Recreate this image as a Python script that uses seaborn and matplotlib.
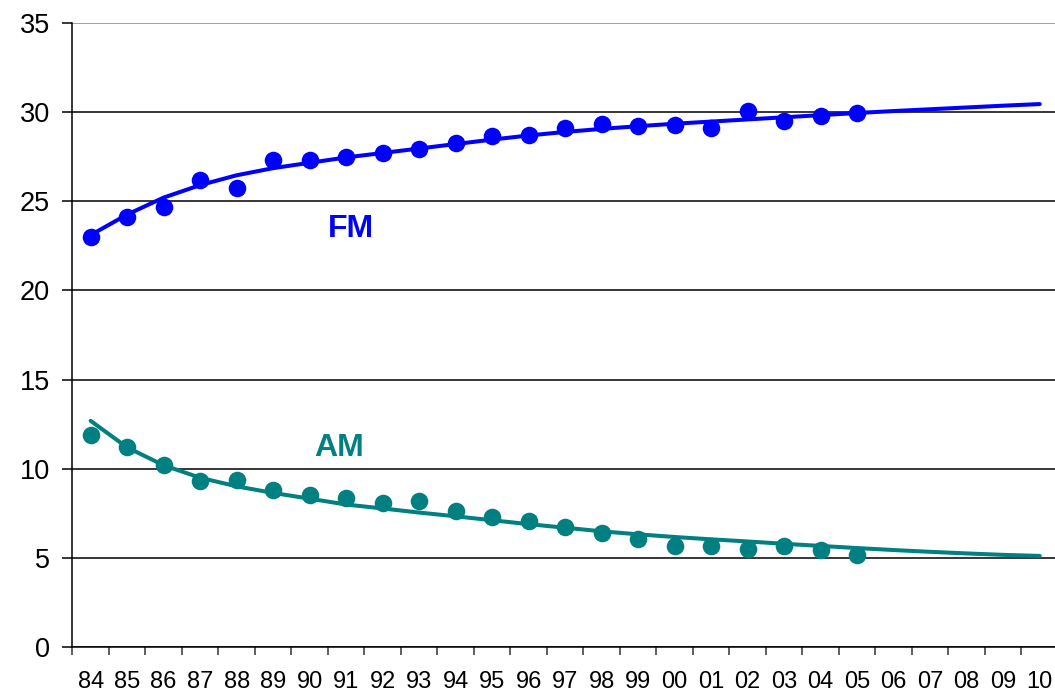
import matplotlib
matplotlib.use("Agg")
import matplotlib.pyplot as plt
import numpy as np
import pandas as pd
import seaborn as sns

FM_COLOR = "#0000ff"
AM_COLOR = "#008080"

years = ["84", "85", "86", "87", "88", "89", "90", "91", "92", "93", "94", "95", "96",
         "97", "98", "99", "00", "01", "02", "03", "04", "05", "06", "07", "08", "09", "10"]

# observed shares, 84..05
fm_points = [23.0, 24.1, 24.7, 26.2, 25.75, 27.3, 27.3, 27.45, 27.7, 27.9, 28.25, 28.65,
             28.7, 29.1, 29.35, 29.2, 29.25, 29.1, 30.05, 29.5, 29.75, 29.95]
am_points = [11.9, 11.2, 10.2, 9.3, 9.4, 8.8, 8.55, 8.35, 8.1, 8.2, 7.65, 7.3,
             7.1, 6.75, 6.4, 6.05, 5.65, 5.65, 5.5, 5.65, 5.45, 5.2]

# trend curves, 84..10
fm_trend = [23.1, 24.25, 25.2, 25.9, 26.45, 26.85, 27.15, 27.45, 27.7, 27.95, 28.2, 28.45,
            28.68, 28.88, 29.05, 29.2, 29.34, 29.46, 29.58, 29.7, 29.82, 29.94, 30.05,
            30.15, 30.25, 30.35, 30.44]
am_trend = [12.69, 11.2, 10.2, 9.5, 9.02, 8.65, 8.33, 8.0, 7.78, 7.55, 7.34, 7.12,
            6.9, 6.7, 6.5, 6.33, 6.18, 6.05, 5.93, 5.8, 5.68, 5.56, 5.45, 5.35,
            5.26, 5.18, 5.12]

sns.set_style("ticks")
plt.rcParams["font.family"] = ["Liberation Sans", "DejaVu Sans"]

pos = np.arange(len(years))
trend = pd.DataFrame({"pos": pos, "FM": fm_trend, "AM": am_trend})
pts = pd.DataFrame({"pos": pos[:len(fm_points)], "FM": fm_points, "AM": am_points})

fig = plt.figure(figsize=(10.55, 6.93), dpi=100)
ax = fig.add_axes([72.4 / 1055, 1 - 647.3 / 693, (1058 - 72.4) / 1055, (647.3 - 22.7) / 693])

for col, color in [("FM", FM_COLOR), ("AM", AM_COLOR)]:
    sns.lineplot(data=trend, x="pos", y=col, color=color, lw=2.9, sort=False, ax=ax, zorder=3)
    sns.scatterplot(data=pts, x="pos", y=col, color=color, s=160, linewidth=0, ax=ax, zorder=4)

ax.text(7.13, 22.97, "FM", color=FM_COLOR, fontsize=23, fontweight="bold", ha="center", va="baseline")
ax.text(6.80, 10.72, "AM", color=AM_COLOR, fontsize=23, fontweight="bold", ha="center", va="baseline")

ax.set_xlim(-0.5, len(years) - 0.5)
ax.set_ylim(0, 35)
ax.set_xlabel("")
ax.set_ylabel("")

ax.set_yticks(np.arange(0, 36, 5))
ax.tick_params(axis="y", labelsize=19.5, length=7, width=1.1, color="black",
               labelcolor="black", pad=9)
ax.set_xticks(pos)
ax.set_xticklabels(years)
ax.set_xticks(np.arange(len(years) + 1) - 0.5, minor=True)
ax.tick_params(axis="x", which="major", length=0, labelsize=17, labelcolor="black", pad=17)
ax.tick_params(axis="x", which="minor", length=5.5, width=1.1, color="#333333")

ax.yaxis.grid(True, color="black", lw=1.1)
ax.set_axisbelow(True)
ax.yaxis.get_gridlines()[-1].set_color("#888888")

for side in ["top", "right"]:
    ax.spines[side].set_visible(False)
for side in ["left", "bottom"]:
    ax.spines[side].set_color("black")
    ax.spines[side].set_linewidth(1.1)

fig.savefig("out.png", dpi=100)
